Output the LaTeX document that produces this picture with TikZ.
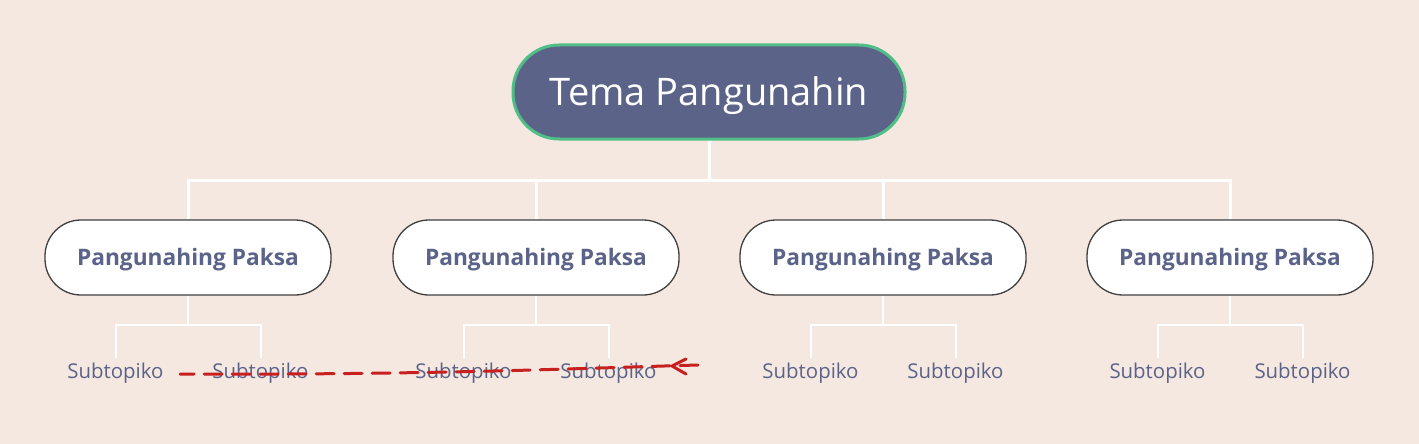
\documentclass[tikz,border=0pt]{standalone}
\usepackage{fontspec}
\setmainfont{Open Sans}
\usepackage{tikz}
\usetikzlibrary{arrows.meta, positioning, calc}

\definecolor{bgcol}{RGB}{245,232,225}
\definecolor{rootfill}{RGB}{91,99,137}
\definecolor{rootline}{RGB}{80,190,135}
\definecolor{txtcol}{RGB}{91,99,137}
\definecolor{markred}{RGB}{200,32,30}

\begin{document}
\begin{tikzpicture}[
    x=1pt, y=-1pt,
    root/.style={fill=rootfill, draw=rootline, line width=3pt, rounded corners=46pt,
        minimum width=392pt, minimum height=94pt, text=white,
        text height=27pt, text depth=0pt,
        font=\fontsize{38}{46}\selectfont}, % 中心主题
    branch/.style={fill=white, draw=black!75, line width=1.3pt, rounded corners=36pt,
        minimum width=286pt, minimum height=75pt, text=txtcol,
        text height=16pt, text depth=0pt,
        font=\bfseries\fontsize{22.7}{28}\selectfont}, % 分支主题
    sub/.style={text=txtcol, inner sep=4pt, font=\fontsize{20.4}{24}\selectfont}, % 子主题
    trunk/.style={white, line width=3pt}, % 主连线
    twig/.style={white, line width=2pt}, % 子连线
    redmark/.style={markred, line width=3pt, dash pattern=on 18pt off 10pt, line cap=round} % 红色标注
]
    % 背景
    \fill[bgcol] (0,0) rectangle (1419,444);
    \useasboundingbox (0,0) rectangle (1419,444);

    % 1. 中心主题
    \node[root] (root) at (709,92) {Tema Pangunahin};

    % 2. 分支主题与子主题
    \foreach \i/\x in {1/188, 2/536, 3/883, 4/1230} {
        \node[branch] (b\i) at (\x,257.5) {Pangunahing Paksa};
        \node[sub, anchor=base] (s\i a) at (\x-72.5,378) {Subtopiko};
        \node[sub, anchor=base] (s\i b) at (\x+72.5,378) {Subtopiko};
        \draw[trunk] (root.south) -- (root.south |- 0,180) -| (b\i.north);
        \draw[twig] (b\i.south) -- (b\i.south |- 0,325) -| (s\i a.north);
        \draw[twig] (b\i.south |- 0,325) -| (s\i b.north);
    }

    % 3. 红色虚线箭头
    \coordinate (markS) at (698,365);
    \coordinate (markE) at (180,374);
    \draw[redmark] (markS) .. controls (560,369) and (420,375) .. (markE);
    \draw[markred, line width=3pt, line cap=round, line join=round]
        (686,359) -- (672,366) -- (686,374);
\end{tikzpicture}
\end{document}
